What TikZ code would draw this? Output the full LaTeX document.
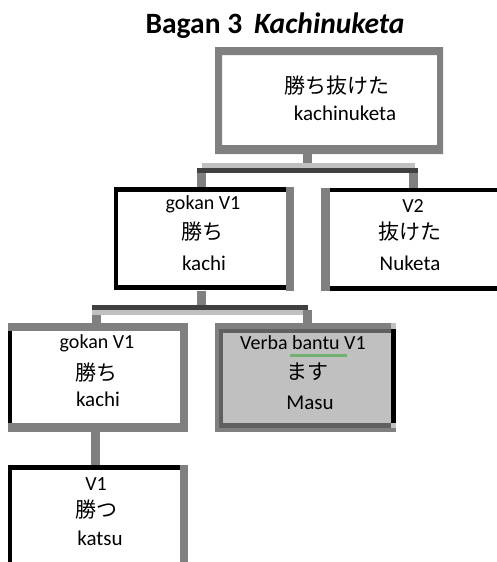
\documentclass[tikz,border=0pt]{standalone}
\usepackage{fontspec}
\setmainfont{Carlito}
\newfontfamily\jpfont{Noto Sans CJK JP}
\usetikzlibrary{calc}
\definecolor{bgray}{HTML}{808080}
\definecolor{dgray}{HTML}{404040}
\definecolor{lgray}{HTML}{C0C0C0}
\definecolor{mgray}{HTML}{606060}
\definecolor{ugreen}{HTML}{70B070}
\begin{document}
\begin{tikzpicture}[x=1pt,y=-1pt,
  box/.style n args={2}{inner sep=0pt,outer sep=0pt,minimum width=#1pt,minimum height=#2pt,fill=white},
  lab/.style={inner sep=0pt,font=\fontsize{20}{22}\selectfont},
  jpn/.style={inner sep=0pt,font=\jpfont\fontsize{21}{24}\selectfont},
  rom/.style={inner sep=0pt,font=\fontsize{21}{24}\selectfont},
  stem/.style={draw=bgray,line width=9pt},
  bardark/.style={draw=dgray,line width=5pt},
  barlight/.style={draw=lgray,line width=5pt}]
\useasboundingbox (0,0) rectangle (497,562);
\clip (0,0) rectangle (497,562);
% title
\node[anchor=base,inner sep=0pt,font=\bfseries\fontsize{29.5}{33}\selectfont] (title) at (275,33) {Bagan 3\hspace{12pt}\textit{Kachinuketa}};
% boxes
\node[box={228}{107}] (top) at (329,100.5) {};
\node[box={180}{104}] (ml) at (204,239) {};
\node[box={190}{103}] (mr) at (416,239.5) {};
\node[box={180}{109}] (bl) at (98,377.5) {};
\node[box={181}{109},fill=lgray] (sh) at (305.5,377.5) {};
\node[box={180}{110}] (bb) at (98,520) {};
% connectors
\coordinate (jT) at (307.5,168);
\coordinate (cL) at (201.5,168);
\coordinate (cR) at (413.5,168);
\draw[stem] (jT |- top.south) -- (jT);
\draw[stem] (cL) -- (cL |- ml.north);
\draw[stem] (cR) -- (cR |- mr.north);
\draw[barlight] (202,165.5) -- (415,165.5);
\draw[bardark] (197,170.5) -- (418,170.5);
\coordinate (jM) at (201.5,310);
\coordinate (cBL) at (96,310);
\coordinate (cSH) at (307.5,310);
\draw[stem] (jM |- ml.south) -- (jM);
\draw[stem] (cBL) -- (cBL |- bl.north);
\draw[stem] (cSH) -- (cSH |- sh.north);
\draw[barlight] (92,312.5) -- (303,312.5);
\draw[bardark] (92,307.5) -- (308,307.5);
\coordinate (cB) at (95.5,440);
\draw[stem] (cB |- bl.south) -- (cB |- bb.north);
% borders: top box
\fill[bgray,even odd rule] (top.north west) rectangle (top.south east)
  ($(top.north west)+(7,8)$) rectangle ($(top.south east)+(-6,-9)$);
% mid-left
\fill[black] (ml.north west) rectangle ($(ml.north east)+(-8,5)$);
\fill[black] (ml.north west) rectangle ($(ml.south west)+(4,-1)$);
\fill[black] ($(ml.south west)+(0,-6)$) rectangle ($(ml.south east)+(-8,-1)$);
\fill[bgray] ($(ml.north east)+(-8,0)$) rectangle (ml.south east);
% mid-right
\fill[bgray] (mr.north west) rectangle ($(mr.south west)+(9,0)$);
\fill[black] ($(mr.north west)+(9,0)$) rectangle ($(mr.north east)+(0,4)$);
\fill[black] ($(mr.south west)+(9,-5)$) rectangle (mr.south east);
% bottom-left
\fill[bgray] (bl.north west) rectangle ($(bl.north east)+(0,8)$);
\fill[black] ($(bl.north west)+(0,8)$) rectangle ($(bl.south west)+(4,-9)$);
\fill[bgray] ($(bl.north east)+(-8,0)$) rectangle (bl.south east);
\fill[bgray] ($(bl.south west)+(0,-9)$) rectangle (bl.south east);
% shaded
\fill[bgray] (sh.north west) rectangle ($(sh.north east)+(-5,6)$);
\fill[bgray] (sh.north west) rectangle ($(sh.south west)+(4,0)$);
\fill[mgray] ($(sh.north west)+(4,6)$) rectangle ($(sh.north east)+(-5,10)$);
\fill[mgray] ($(sh.north west)+(4,6)$) rectangle ($(sh.south west)+(8,-4)$);
\fill[black] ($(sh.north east)+(-5,6)$) rectangle ($(sh.south east)+(0,-9)$);
\fill[mgray] ($(sh.south west)+(4,-9)$) rectangle ($(sh.south east)+(-5,-4)$);
\fill[bgray] ($(sh.south west)+(0,-4)$) rectangle (sh.south east);
% bottom box
\fill[black] (bb.north west) rectangle ($(bb.north east)+(-8,5)$);
\fill[black] (bb.north west) rectangle ($(bb.south west)+(4,0)$);
\fill[bgray] ($(bb.north east)+(-8,0)$) rectangle (bb.south east);
% texts
\node[jpn] (top-j) at (337,86) {勝ち抜けた};
\node[rom] (top-r) at (345,113) {kachinuketa};
\node[lab] (ml-l) at (203,204) {gokan V1};
\node[jpn] (ml-j) at (202,232) {勝ち};
\node[rom] (ml-r) at (204,263) {kachi};
\node[lab] (mr-l) at (413,206) {V2};
\node[jpn] (mr-j) at (410,232) {抜けた};
\node[rom] (mr-r) at (410,263) {Nuketa};
\node[lab] (bl-l) at (97,343) {gokan V1};
\node[jpn] (bl-j) at (96,373) {勝ち};
\node[rom] (bl-r) at (98,399) {kachi};
\node[lab] (sh-l) at (303,343) {Verba bantu V1};
\draw[ugreen,line width=3pt] (290,355) -- (347,355);
\node[jpn] (sh-j) at (307,372) {ます};
\node[rom] (sh-r) at (310,403) {Masu};
\node[lab] (bb-l) at (96,484) {V1};
\node[jpn] (bb-j) at (96,510) {勝つ};
\node[rom] (bb-r) at (100,538) {katsu};
\end{tikzpicture}
\end{document}
